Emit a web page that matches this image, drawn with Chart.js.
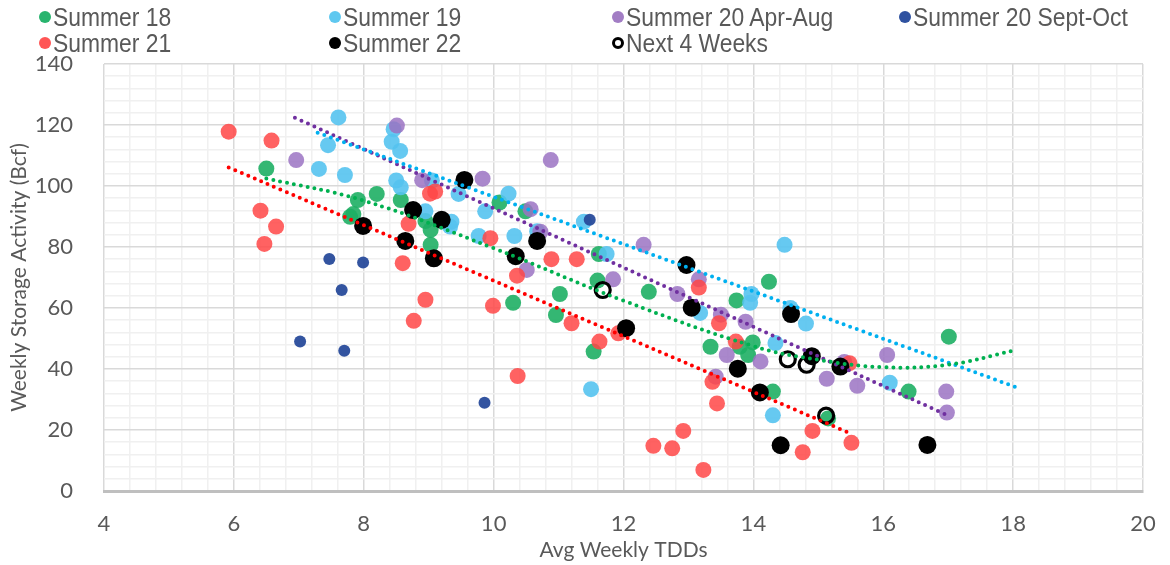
<!DOCTYPE html>
<html>
<head>
<meta charset="utf-8">
<script src="https://cdn.jsdelivr.net/npm/chart.js@4.4.0/dist/chart.umd.min.js"></script>
<style>
    html, body { margin: 0; padding: 0; background: #fff; }
    #wrap { position: relative; width: 1170px; height: 565px; }
    #legend { position: absolute; left: 0; top: 0; width: 1170px; height: 60px; font-family: "Liberation Sans", Arial, sans-serif; color: #595959; font-size: 26px; }
    .item { position: absolute; height: 26px; line-height: 26px; white-space: nowrap; }
    .dot { position: absolute; left: -6px; top: 7px; width: 12px; height: 12px; border-radius: 50%; box-sizing: border-box; }
    .lbl { position: absolute; left: 8px; top: 0; transform: scaleX(0.88); transform-origin: left center; }
</style>
</head>
<body>
<div id="wrap">
    <canvas id="chart" width="1170" height="565"></canvas>
    <div id="legend"></div>
</div>
<script>
// [Avg Weekly TDDs, Weekly Storage Activity (Bcf)]
const summer18 = [[6.50, 105.7], [8.20, 97.4], [7.91, 95.4], [7.84, 90.8], [7.79, 89.9], [8.57, 95.4], [8.95, 88.5],
    [9.03, 85.6], [9.03, 80.7], [10.09, 94.6], [10.49, 91.7], [10.30, 61.7], [11.02, 64.6], [10.96, 57.7], [11.60, 69.0],
    [11.62, 77.7], [11.54, 45.7], [12.39, 65.3], [13.74, 62.5], [14.24, 68.6], [13.34, 47.3], [13.79, 47.3], [13.99, 48.7],
    [13.92, 44.6], [14.30, 32.6], [15.15, 23.8], [16.39, 32.6], [17.01, 50.6]];
const summer19 = [[7.61, 122.5], [7.45, 113.4], [7.31, 105.6], [7.71, 103.6], [8.46, 118.6], [8.43, 114.5], [8.56, 111.5],
    [8.50, 101.8], [8.57, 99.6], [9.05, 101.8], [9.46, 97.4], [8.95, 91.7], [9.35, 88.3], [9.33, 86.7], [9.77, 83.6],
    [9.87, 91.7], [10.23, 97.5], [10.32, 83.6], [10.67, 85.2], [11.39, 88.3], [11.74, 77.7], [13.18, 58.4], [13.97, 64.6],
    [13.95, 61.7], [14.48, 80.7], [14.57, 60.0], [14.81, 54.9], [14.34, 48.5], [11.50, 33.4], [14.30, 24.8], [16.10, 35.5]];
const summer20AprAug = [[6.96, 108.5], [8.51, 119.8], [8.90, 101.9], [9.83, 102.4], [10.88, 108.5], [10.57, 92.4], [10.72, 85.0],
    [10.51, 72.5], [11.84, 69.4], [12.31, 80.7], [12.83, 64.6], [13.16, 69.4], [13.50, 57.8], [13.88, 55.5], [13.42, 37.5],
    [13.59, 44.6], [14.11, 42.5], [15.13, 36.8], [15.60, 34.5], [15.40, 42.3], [16.06, 44.6], [16.97, 32.6], [16.98, 25.7]];
const summer20SeptOct = [[7.47, 76.1], [7.99, 74.9], [7.66, 65.9], [7.02, 49.0], [7.70, 46.0], [9.86, 28.9], [11.48, 88.9]];
const summer21 = [[5.92, 117.8], [6.58, 114.9], [6.41, 91.9], [6.65, 86.7], [6.47, 81.0], [8.69, 87.6], [8.60, 74.7],
    [9.02, 97.5], [9.10, 98.2], [9.95, 82.9], [8.95, 62.7], [8.77, 55.8], [9.99, 60.7], [10.36, 70.6], [10.37, 37.7],
    [10.89, 76.0], [11.28, 76.0], [11.20, 55.0], [11.63, 49.0], [11.92, 51.7], [13.16, 66.7], [13.47, 55.0], [13.73, 49.0],
    [13.37, 35.8], [13.44, 28.7], [12.92, 19.7], [12.46, 14.8], [12.75, 14.0], [13.23, 6.9], [14.91, 19.7], [14.76, 12.7],
    [15.51, 15.8], [15.48, 41.9]];
const summer22 = [[7.99, 86.9], [8.64, 82.0], [8.76, 92.1], [9.20, 88.9], [9.08, 76.3], [9.55, 102.0], [10.34, 77.0],
    [10.67, 82.0], [12.04, 53.4], [12.97, 74.1], [13.05, 60.1], [13.76, 40.1], [14.10, 32.3], [14.58, 58.0], [14.90, 44.2],
    [15.34, 40.8], [14.42, 15.0], [16.68, 15.1]];
const next4Weeks = [[11.68, 65.9], [14.53, 43.2], [14.82, 41.4], [15.12, 24.7]];

// trend lines
const trend18 = [[6.5, 102.5], [8, 95.2], [10, 79.6], [12, 62.4], [14, 47.5], [15, 43.0], [16, 40.6], [17, 41.4], [18, 46.0]];
const trend19 = [[7.29, 117.5], [18.05, 34.0]];
const trend20 = [[6.94, 122.4], [16.98, 24.9]];
const trend21 = [[5.92, 106.1], [15.46, 19.2]];

const xMin = 4, xMax = 20, xStep = 0.4, xMajor = 2;
const yMin = 0, yMax = 140, yStep = 4, yMajor = 20;

const legendItems = [
    { label: 'Summer 18', color: 'rgb(40,180,110)', col: 0, row: 0 },
    { label: 'Summer 19', color: 'rgb(95,200,240)', col: 1, row: 0 },
    { label: 'Summer 20 Apr-Aug', color: 'rgb(162,125,196)', col: 2, row: 0 },
    { label: 'Summer 20 Sept-Oct', color: 'rgb(47,82,160)', col: 3, row: 0 },
    { label: 'Summer 21', color: 'rgb(255,85,85)', col: 0, row: 1 },
    { label: 'Summer 22', color: '#000', col: 1, row: 1 },
    { label: 'Next 4 Weeks', color: null, col: 2, row: 1 }
];

const legendCols = [45, 335, 618, 905];
const legendRows = [17, 43];
const legend = document.getElementById('legend');
legendItems.forEach(el => {
    let item = document.createElement('div');
    item.className = 'item';
    item.style.left = legendCols[el.col] + 'px';
    item.style.top = (legendRows[el.row] - 13) + 'px';
    let dot = document.createElement('span');
    dot.className = 'dot';
    if (el.color) {
        dot.style.background = el.color;
    } else {
        dot.style.border = '3px solid #000';
    }
    let lbl = document.createElement('span');
    lbl.className = 'lbl';
    lbl.textContent = el.label;
    item.appendChild(dot);
    item.appendChild(lbl);
    legend.appendChild(item);
});

function toPoints(arr) {
    return arr.map(p => ({ x: p[0], y: p[1] }));
}

function isMajor(v, major) {
    return Math.abs(v / major - Math.round(v / major)) < 1e-6;
}

function dots(data, color, radius, order) {
    return {
        data: toPoints(data),
        backgroundColor: color,
        borderWidth: 0,
        pointRadius: radius,
        order: order
    };
}

function trend(data, color) {
    return {
        data: toPoints(data),
        showLine: true,
        borderColor: color,
        borderWidth: 4,
        borderDash: [0, 7],
        borderCapStyle: 'round',
        pointRadius: 0,
        tension: 0.4,
        fill: false,
        order: 0
    };
}

Chart.defaults.font.family = 'Lato, "Open Sans", sans-serif';
Chart.defaults.font.size = 22;
Chart.defaults.color = '#595959';

const ctx = document.getElementById('chart').getContext('2d');
const chart = new Chart(ctx, {
    type: 'scatter',
    data: {
        datasets: [
            dots(summer18, 'rgba(30,175,100,0.9)', 8, 7),
            dots(summer19, 'rgba(85,195,240,0.9)', 8, 6),
            dots(summer20AprAug, 'rgba(155,115,195,0.85)', 8, 5),
            dots(summer20SeptOct, 'rgba(40,75,155,0.95)', 6, 4),
            dots(summer21, 'rgba(255,70,70,0.85)', 8, 3),
            dots(summer22, '#000', 9, 2),
            {
                data: toPoints(next4Weeks),
                backgroundColor: 'rgba(255,255,255,0)',
                borderColor: '#000',
                borderWidth: 3.2,
                pointRadius: 7.5,
                order: 1
            },
            trend(trend18, '#00b050'),
            trend(trend19, '#00b0f0'),
            trend(trend20, '#7030a0'),
            trend(trend21, '#ff0000')
        ]
    },
    options: {
        responsive: false,
        animation: false,
        events: [],
        layout: {
            padding: { top: 64, right: 27, bottom: 0, left: 0 }
        },
        scales: {
            x: {
                type: 'linear',
                min: xMin,
                max: xMax,
                afterFit: scale => {
                    scale.height = 74;
                    scale.paddingLeft = 0;
                    scale.paddingRight = 0;
                },
                ticks: {
                    stepSize: xStep,
                    autoSkip: false,
                    maxRotation: 0,
                    padding: 20,
                    callback: v => isMajor(v, xMajor) ? String(Math.round(v)) : ''
                },
                grid: {
                    drawTicks: false,
                    color: c => isMajor(c.tick.value, xMajor) ? '#d9d9d9' : '#f0f0f0',
                    lineWidth: 1.5
                },
                border: { color: '#bfbfbf', width: 3 },
                title: {
                    display: true,
                    text: 'Avg Weekly TDDs',
                    font: { size: 21 },
                    padding: { top: 0, bottom: 2 }
                }
            },
            y: {
                type: 'linear',
                min: yMin,
                max: yMax,
                afterFit: scale => { scale.width = 104; },
                ticks: {
                    stepSize: yStep,
                    autoSkip: false,
                    padding: 31,
                    callback: v => isMajor(v, yMajor) ? String(Math.round(v)) : ''
                },
                grid: {
                    drawTicks: false,
                    color: c => isMajor(c.tick.value, yMajor) ? '#d9d9d9' : '#f0f0f0',
                    lineWidth: 1.5
                },
                border: { display: false },
                title: {
                    display: true,
                    text: 'Weekly Storage Activity (Bcf)',
                    font: { size: 21 },
                    padding: { top: 7, bottom: 0 }
                }
            }
        },
        plugins: {
            legend: { display: false },
            tooltip: { enabled: false }
        }
    }
});
</script>
</body>
</html>
